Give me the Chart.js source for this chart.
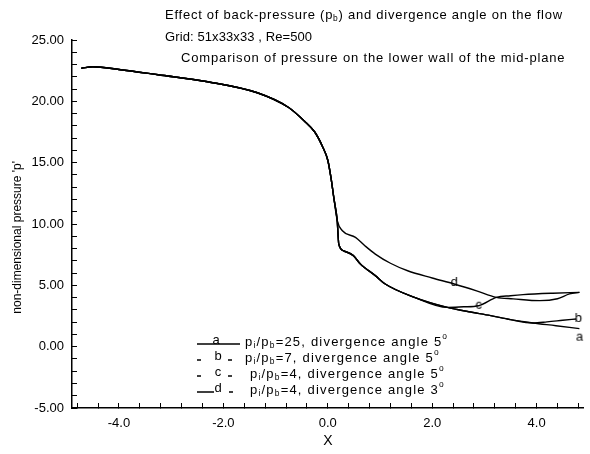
<!DOCTYPE html>
<html>
<head>
<meta charset="utf-8">
<script src="https://cdn.jsdelivr.net/npm/chart.js@4.4.0/dist/chart.umd.min.js"></script>
<style>
  body { margin: 0; background: #fff; }
</style>
</head>
<body>
<canvas id="chart" width="590" height="454"></canvas>
<script>
// shared upstream part of all four curves
const upX = [-4.72, -4.5, -4.0, -3.25, -2.3, -1.35, -0.75, -0.45, -0.25, -0.1, 0.0, 0.06, 0.12, 0.18]
const upY = [22.7, 22.82, 22.6, 22.17, 21.6, 20.7, 19.5, 18.4, 17.5, 16.3, 15.2, 13.8, 12.0, 10.3]

// curve d branch
const dX = [0.28, 0.53, 0.71, 0.91, 1.2, 1.53, 2.0, 2.42, 2.85, 3.23, 3.55, 4.06, 4.4, 4.63, 4.82]
const dY = [9.45, 8.91, 8.23, 7.55, 6.8, 6.19, 5.6, 5.11, 4.55, 4.02, 3.9, 3.75, 3.91, 4.3, 4.43]

// lower branch shared by a, b, c
const lowX = [0.21, 0.31, 0.49, 0.62, 0.91, 1.1, 1.66, 2.29]
const lowY = [8.37, 7.8, 7.42, 6.76, 5.79, 5.11, 4.02, 3.2]

// a and b together, then split
const abX = [2.7, 3.12, 3.5, 3.93]
const abY = [2.85, 2.53, 2.2, 1.93]
const aX = [4.37, 4.82]
const aY = [1.71, 1.47]
const bX = [4.2, 4.5, 4.76]
const bY = [2.02, 2.15, 2.26]

// c leaves the lower branch
const cX = [2.6, 2.89, 3.23, 3.5, 3.74, 4.31, 4.82]
const cY = [3.25, 3.34, 4.02, 4.15, 4.24, 4.36, 4.43]

const xMajor = [-4, -2, 0, 2, 4]
const yMajor = [-5, 0, 5, 10, 15, 20, 25]

const legendText = [
    ['25', '5'],
    ['7', '5'],
    ['4', '5'],
    ['4', '3'],
]

const FONT = '"Liberation Sans", Arial, sans-serif'

function zip(xs, ys) {
    return xs.map((x, i) => ({ x: x, y: ys[i] }))
}

function letterMark(ch, dx, dy) {
    let c = document.createElement('canvas')
    c.width = 30
    c.height = 30
    let g = c.getContext('2d')
    g.font = '13px ' + FONT
    g.textAlign = 'center'
    g.textBaseline = 'middle'
    g.fillStyle = '#000'
    g.fillText(ch, 15 + dx, 15 + dy)
    return c
}

const seriesA = zip(upX.concat(lowX, abX, aX), upY.concat(lowY, abY, aY))
const seriesB = zip(upX.concat(lowX, abX, bX), upY.concat(lowY, abY, bY))
const seriesC = zip(upX.concat(lowX, cX), upY.concat(lowY, cY))
const seriesD = zip(upX.concat(dX), upY.concat(dY))

const marks = [
    { data: seriesA, idx: seriesA.length - 1, img: letterMark('a', 0, 8) },
    { data: seriesB, idx: seriesB.length - 1, img: letterMark('b', 2, -1) },
    { data: seriesC, idx: upX.length + lowX.length + 1, img: letterMark('c', 0, -1) },
    { data: seriesD, idx: upX.length + 7, img: letterMark('d', 0, -2) },
]

function tickList(from, to, step) {
    let out = []
    let n = Math.round((to - from) / step)
    for (let k = 0; k <= n; k++) out.push(Math.round((from + k * step) * 10) / 10)
    return out
}

// draws text with sub/superscripts: parts = [[text, 'sub'|'sup'|null], ...]
function richText(ctx, parts, x, y, size, spacing) {
    for (let p of parts) {
        let small = p[1] != null
        ctx.font = (small ? size * 0.65 : size) + 'px ' + FONT
        ctx.letterSpacing = (spacing || 0) + 'px'
        let yy = p[1] == 'sub' ? y + size * 0.3 : (p[1] == 'sup' ? y - size * 0.4 : y)
        ctx.fillText(p[0], x, yy)
        x += ctx.measureText(p[0]).width
    }
    ctx.letterSpacing = '0px'
}

const annotations = {
    id: 'annotations',
    afterDraw(chart) {
        let ctx = chart.ctx
        ctx.save()
        ctx.fillStyle = '#000'
        ctx.strokeStyle = '#000'
        ctx.textBaseline = 'middle'
        ctx.textAlign = 'left'

        richText(ctx, [['Effect of back-pressure (p', null], ['b', 'sub'], [') and divergence angle on the flow', null]], 165, 15, 13, 0.75)
        richText(ctx, [['Grid: 51x33x33 , Re=500', null]], 165, 37, 13, 0.1)
        richText(ctx, [['Comparison of pressure on the lower wall of the mid-plane', null]], 181, 58, 13, 0.85)

        let rows = [342, 358, 374, 390]
        let letters = ['a', 'b', 'c', 'd']
        ctx.lineWidth = 1.3
        rows.forEach((y, i) => {
            ctx.beginPath()
            if (i == 0) {
                ctx.moveTo(197, y + 2); ctx.lineTo(240, y + 2)
            } else if (i == 3) {
                ctx.moveTo(197, y + 2); ctx.lineTo(214, y + 2)
                ctx.moveTo(229, y + 2); ctx.lineTo(233, y + 2)
            } else {
                ctx.moveTo(197, y + 2); ctx.lineTo(201, y + 2)
                ctx.moveTo(228, y + 2); ctx.lineTo(232, y + 2)
            }
            ctx.stroke()
            ctx.font = '13px ' + FONT
            ctx.textAlign = 'center'
            ctx.fillText(letters[i], i == 0 ? 216 : 218, y - 2)
            ctx.textAlign = 'left'
            let tx = i < 2 ? 245 : 250
            richText(ctx, [['p', null], ['i', 'sub'], ['/p', null], ['b', 'sub'],
                ['=' + legendText[i][0] + ', divergence angle ' + legendText[i][1], null], ['o', 'sup']], tx, y, 13, 1.2)
        })
        ctx.restore()
    }
}

let chart = new Chart(document.getElementById('chart'), {
    type: 'line',
    data: {
        datasets: marks.map(m => ({
            data: m.data,
            borderColor: '#000',
            borderWidth: 1.4,
            cubicInterpolationMode: 'monotone',
            fill: false,
            pointStyle: m.img,
            pointRadius: ctx => ctx.dataIndex === m.idx ? 5 : 0,
        }))
    },
    options: {
        responsive: false,
        animation: false,
        events: [],
        layout: { padding: { top: 40, right: 1, left: 0, bottom: 0 } },
        plugins: { legend: { display: false }, tooltip: { enabled: false } },
        scales: {
            x: {
                type: 'linear',
                min: -4.9,
                max: 4.9,
                border: { color: '#000', width: 1.5 },
                // negative tick length turns the ticks inwards like the original
                grid: { drawOnChartArea: false, tickLength: -5, color: '#000', lineWidth: 1 },
                afterBuildTicks: s => { s.ticks = tickList(-4.8, 4.8, 0.4).map(v => ({ value: v })) },
                afterFit: s => {
                    s.height = 46
                    s.paddingLeft = 0
                    s.paddingRight = 0
                },
                ticks: {
                    autoSkip: false,
                    maxRotation: 0,
                    padding: 13,
                    color: '#000',
                    font: { family: FONT, size: 13 },
                    callback: v => xMajor.includes(v) ? v.toFixed(1) : ''
                },
                title: {
                    display: true,
                    text: 'X',
                    color: '#000',
                    font: { family: FONT, size: 14 },
                    padding: { top: 0, bottom: 4 }
                }
            },
            y: {
                min: -5,
                max: 25,
                border: { color: '#000', width: 1.5 },
                grid: { drawOnChartArea: false, tickLength: -5, color: '#000', lineWidth: 1 },
                afterBuildTicks: s => { s.ticks = tickList(-5, 25, 1).map(v => ({ value: v })) },
                afterFit: s => { s.width = 72 },
                ticks: {
                    autoSkip: false,
                    padding: 13,
                    color: '#000',
                    font: { family: FONT, size: 13 },
                    callback: v => yMajor.includes(v) ? v.toFixed(2) : ''
                },
                title: {
                    display: true,
                    // trailing spaces push the label a little below the axis middle, as in the scan
                    text: "non-dimensional pressure 'p'        ",
                    color: '#000',
                    font: { family: FONT, size: 12 },
                    padding: { top: 10, bottom: 0 }
                }
            }
        }
    },
    plugins: [annotations]
})
</script>
</body>
</html>
